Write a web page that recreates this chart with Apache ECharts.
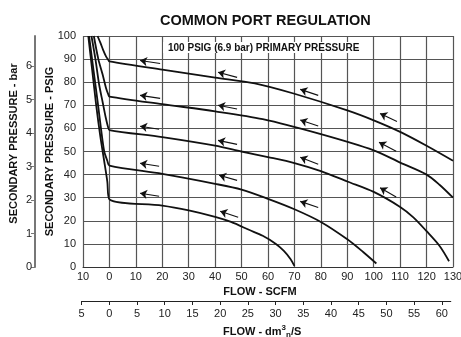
<!DOCTYPE html>
<html>
<head>
<meta charset="utf-8">
<script src="https://cdn.jsdelivr.net/npm/echarts@6/dist/echarts.min.js"></script>
<style>
html, body { margin: 0; padding: 0; background: #fff; }
#chart { width: 461px; height: 337px; }
</style>
</head>
<body>
<div id="chart"></div>
<script>
// flow (SCFM) / secondary pressure (PSIG), one curve per regulator setting
const flow88 = [-4.5, -3.4, -2.4, -1.3, -0.4, 0, 20, 40, 55, 70, 90, 100, 110, 120, 130];
const psig88 = [100, 97, 94, 91.2, 89.6, 89, 85.4, 82, 79.5, 75, 67.8, 63.5, 58.5, 52.5, 46];

const flow73 = [-5.9, -4.2, -2.6, -1.3, -0.4, 0, 20, 40, 58, 80, 100, 110, 120, 125, 130];
const psig73 = [100, 90, 83.4, 77.5, 74.6, 73.8, 70.5, 67.4, 64, 57.5, 50.5, 45.2, 40, 35.5, 30];

const flow59 = [-6.8, -5.3, -3.9, -2.5, -1.4, -0.5, 0, 20, 40, 50, 60, 70, 80, 90, 100, 110, 115, 120, 125, 128.5];
const psig59 = [100, 90, 79, 71, 64.7, 60.5, 59.3, 56.2, 52.5, 50, 47.6, 45, 41.5, 37, 32.5, 26, 21.5, 15.5, 9, 2.5];

const flow44 = [-7.7, -6, -4.5, -3.2, -2, -0.8, 0, 20, 40, 50, 60, 70, 80, 90, 96, 101];
const psig44 = [100, 85, 71.9, 60, 50.2, 46, 43.9, 40.3, 36, 33.5, 29.5, 25, 19.5, 12, 6.5, 1.5];

const flow29 = [-8, -6.5, -5, -3.5, -2, -0.8, 0, 20, 30, 40, 46, 53, 58, 63, 66, 68.5, 70];
const psig29 = [100, 85, 70, 57, 46, 37, 29.3, 26.6, 24.5, 21.7, 19.5, 16, 13.5, 10, 7, 3.5, 0.5];

// flow arrows: [head flow, head psig, tail flow, tail psig]
const arrows = [
  [11.6, 89.4, 19.2, 88.1], [41.1, 84.3, 48.3, 82.1], [72.2, 76.9, 79, 74.3], [102.4, 66.4, 108.8, 63],
  [11.6, 74.3, 19.2, 73], [41.1, 70, 48.3, 68.4], [72.2, 63.6, 79, 61], [102, 54, 108.5, 50.1],
  [11.6, 60.9, 18.8, 59.6], [41.1, 54.8, 48.3, 53.1], [72.2, 47.5, 79, 44.5], [102.4, 34.3, 108.5, 30.3],
  [11.6, 44.9, 18.8, 43.6], [41.5, 39.7, 48.3, 37.5], [72.2, 28.4, 79, 25.8],
  [11.6, 31.9, 18.8, 30.6], [41.9, 24.1, 48.7, 21.5]
];

const barTicks = [0, 1, 2, 3, 4, 5, 6];
const dm3Ticks = [-5, 0, 5, 10, 15, 20, 25, 30, 35, 40, 45, 50, 55, 60];

const curves = [[flow88, psig88], [flow73, psig73], [flow59, psig59], [flow44, psig44], [flow29, psig29]];

const font = 'Liberation Sans, Arial, sans-serif';
const chart = echarts.init(document.getElementById('chart'));

const series = curves.map(function (c, i) {
  return {
    type: 'line',
    xAxisIndex: 0,
    yAxisIndex: 0,
    data: c[0].map(function (x, j) { return [x, c[1][j]]; }),
    showSymbol: false,
    smooth: 0.3,
    lineStyle: { color: '#111', width: 1.8 },
    silent: true,
    z: 3,
    markLine: i === 0 ? {
      silent: true,
      symbol: ['arrow', 'none'],
      symbolSize: 7,
      label: { show: false },
      lineStyle: { color: '#111', width: 1.1, type: 'solid' },
      data: arrows.map(function (a) {
        return [{ coord: [a[0], a[1]] }, { coord: [a[2], a[3]] }];
      })
    } : undefined
  };
});

chart.setOption({
  animation: false,
  textStyle: { fontFamily: font },
  title: [{
    text: 'COMMON PORT REGULATION',
    left: 160,
    top: 13,
    padding: 0,
    textStyle: { fontSize: 14.5, fontWeight: 'bold', color: '#111', fontFamily: font }
  }, {
    text: '100 PSIG (6.9 bar) PRIMARY PRESSURE',
    left: 163,
    top: 42,
    padding: [1, 5, 0, 5],
    backgroundColor: '#fff',
    textStyle: { fontSize: 10, fontWeight: 'bold', color: '#111', fontFamily: font }
  }],
  grid: [
    { left: 83, right: 8, top: 36, bottom: 70, outerBoundsMode: 'none', containLabel: false },
    { left: 81.6, right: 10.3, top: 290, bottom: 36, outerBoundsMode: 'none', containLabel: false }
  ],
  xAxis: [{
    type: 'value',
    gridIndex: 0,
    min: -10,
    max: 130,
    interval: 10,
    axisLine: { show: true, lineStyle: { color: '#333', width: 1 } },
    axisTick: { show: false },
    axisLabel: { formatter: function (v) { return Math.abs(v); }, color: '#222', fontSize: 11, margin: 4 },
    splitLine: { show: true, lineStyle: { color: '#555', width: 1.2 } },
    name: 'FLOW - SCFM',
    nameLocation: 'middle',
    nameGap: 14,
    nameTextStyle: { fontWeight: 'bold', fontSize: 11, color: '#111', padding: [0, 16, 0, 0] }
  }, {
    type: 'value',
    gridIndex: 1,
    min: -5,
    max: 61.6,
    interval: 5,
    axisLine: { show: true, lineStyle: { color: '#222', width: 1.2 } },
    axisTick: { show: true, length: 4, customValues: dm3Ticks, lineStyle: { color: '#222' } },
    axisLabel: { customValues: dm3Ticks, formatter: function (v) { return Math.abs(v); }, color: '#222', fontSize: 11, margin: 7 },
    splitLine: { show: false },
    name: 'FLOW - dm{sup|3}{sub|n}/S',
    nameLocation: 'middle',
    nameGap: 23,
    nameTextStyle: {
      fontWeight: 'bold', fontSize: 11, color: '#111', padding: [0, 8, 0, 0],
      rich: {
        sup: { fontSize: 8, fontWeight: 'bold', padding: [0, 0, 8, 0] },
        sub: { fontSize: 8, fontWeight: 'bold', padding: [6, 0, 0, 0] }
      }
    }
  }],
  yAxis: [{
    type: 'value',
    gridIndex: 0,
    min: 0,
    max: 100,
    interval: 10,
    axisLine: { show: false },
    axisTick: { show: false },
    axisLabel: { color: '#222', fontSize: 11, margin: 7 },
    splitLine: { show: true, lineStyle: { color: '#555', width: 1.2 } },
    name: 'SECONDARY PRESSURE - PSIG',
    nameLocation: 'middle',
    nameRotate: 90,
    nameGap: 28,
    nameMoveOverlap: false,
    nameTextStyle: { fontWeight: 'bold', fontSize: 11, color: '#111' }
  }, {
    type: 'value',
    gridIndex: 0,
    position: 'left',
    offset: 48,
    min: 0,
    max: 100 / 14.5,
    interval: 1,
    axisLine: { show: true, lineStyle: { color: '#777', width: 2 } },
    axisTick: { show: true, length: 4, customValues: barTicks, lineStyle: { color: '#777' } },
    axisLabel: { customValues: barTicks, color: '#222', fontSize: 11, margin: 3 },
    splitLine: { show: false },
    name: 'SECONDARY PRESSURE - bar',
    nameLocation: 'middle',
    nameRotate: 90,
    nameGap: 16,
    nameMoveOverlap: false,
    nameTextStyle: { fontWeight: 'bold', fontSize: 11, color: '#111', padding: [0, 0, 0, 16] }
  }, {
    type: 'value',
    gridIndex: 1,
    show: false,
    min: 0,
    max: 1
  }],
  series: series
});
</script>
</body>
</html>
